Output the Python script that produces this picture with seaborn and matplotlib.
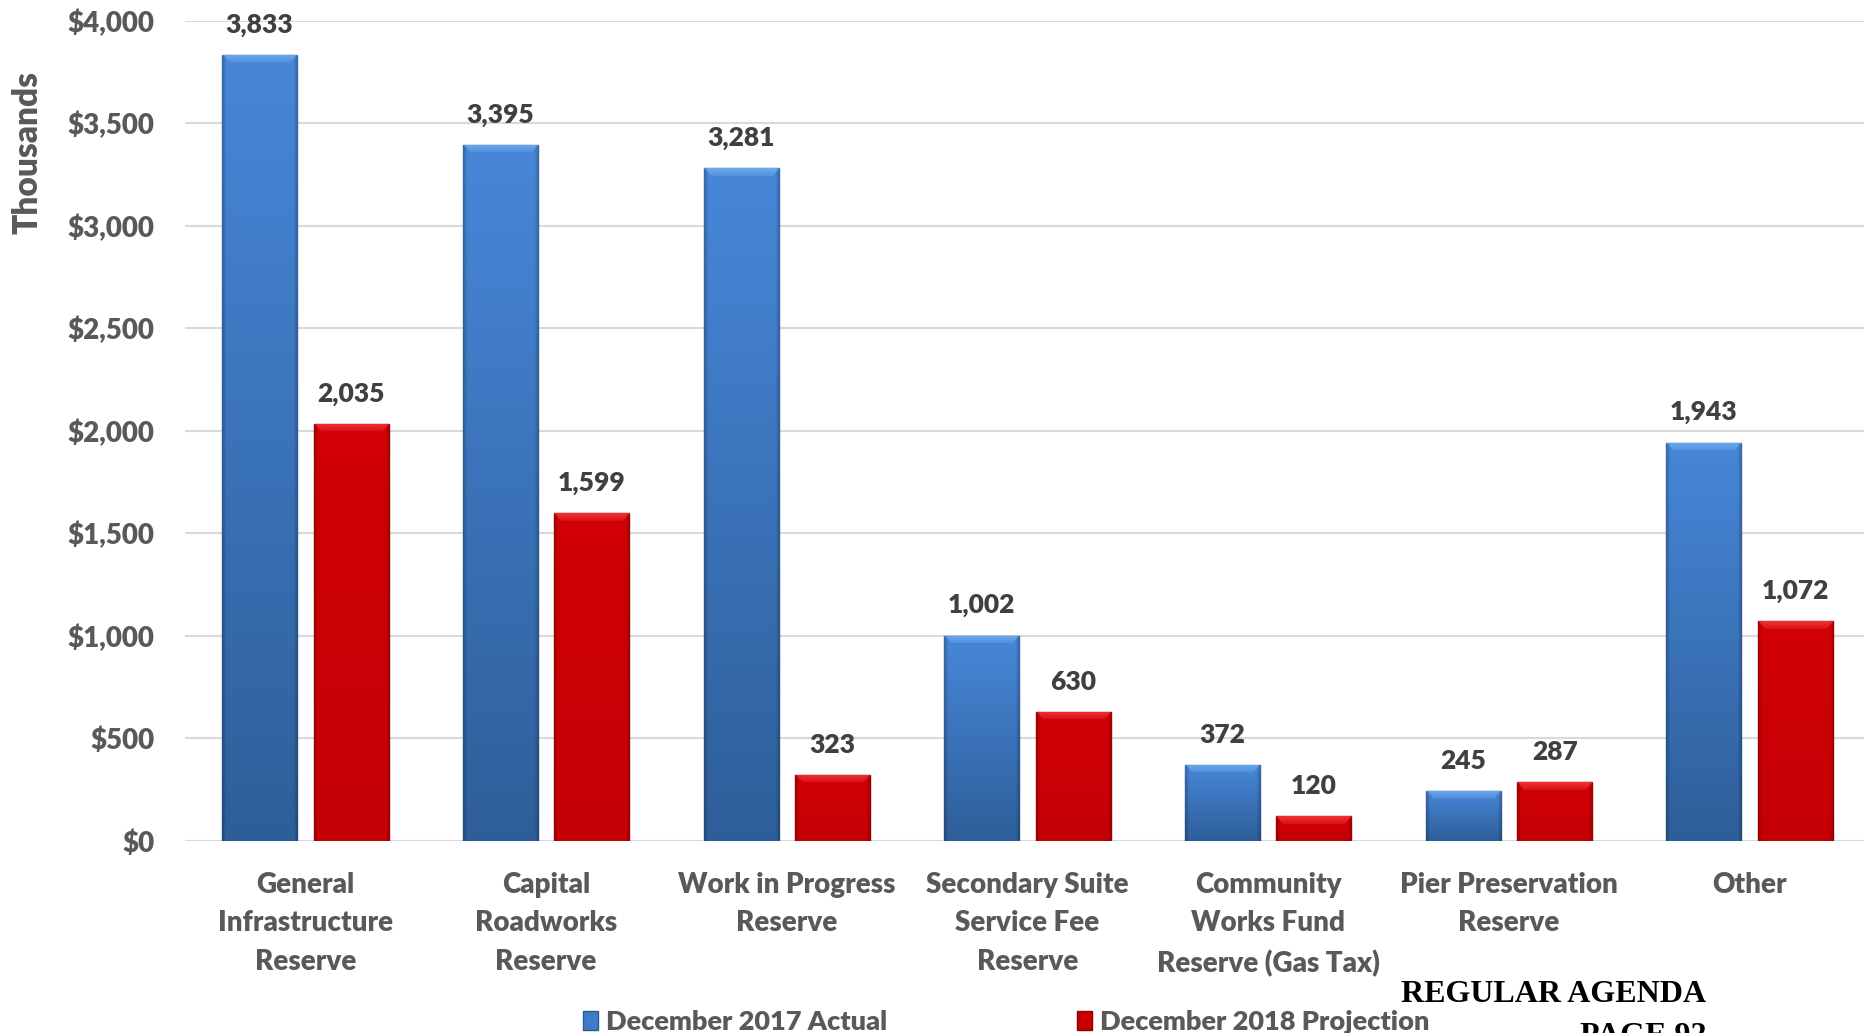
import numpy as np
import pandas as pd
import matplotlib
matplotlib.use("Agg")
import matplotlib.pyplot as plt
from matplotlib.patches import Patch
from matplotlib.ticker import FuncFormatter, MultipleLocator
import seaborn as sns

# Reserve balances, in thousands of dollars
categories = [
    "General\nInfrastructure\nReserve",
    "Capital\nRoadworks\nReserve",
    "Work in Progress\nReserve",
    "Secondary Suite\nService Fee\nReserve",
    "Community\nWorks Fund\nReserve (Gas Tax)",
    "Pier Preservation\nReserve",
    "Other",
]
series_names = ["December 2017 Actual", "December 2018 Projection"]
actual_2017 = [3833, 3395, 3281, 1002, 372, 245, 1943]
projection_2018 = [2035, 1599, 323, 630, 120, 287, 1072]

df = pd.DataFrame({
    "category": categories * 2,
    "series": [series_names[0]] * len(categories) + [series_names[1]] * len(categories),
    "value": actual_2017 + projection_2018,
})

BLUE = "#3f7cc8"
RED = "#c80000"
TICK_GRAY = "#595959"
LABEL_GRAY = "#404040"
WEIGHT = "heavy"

sns.set_theme(style="white")
plt.rcParams["font.family"] = ["Lato", "DejaVu Sans"]
plt.rcParams["font.weight"] = WEIGHT

W, H, DPI = 1864, 1033, 100
fig = plt.figure(figsize=(W / DPI, H / DPI), dpi=DPI)
ax = fig.add_axes([185 / W, 1 - 841 / H, 1685 / W, (841 - 20.7) / H])

sns.barplot(data=df, x="category", y="value", hue="series",
            palette=[BLUE, RED], width=0.76, gap=0.18, dodge=True,
            ax=ax, legend=False, saturation=1.0, zorder=2)

ax.set_xlim(-0.5, len(categories) - 0.5)
ax.set_ylim(0, 4000)

px_per_x = 1685 / len(categories)
px_per_y = (841 - 20.7) / 4000


def bar_shading(top_rgb, bot_rgb, hi_rgb, w_px, h_px):
    """Vertical gradient with a bevelled top edge and darker sides."""
    rows = max(int(round(h_px)), 2)
    cols = max(int(round(w_px)), 2)
    t = np.linspace(0, 1, rows)[:, None]
    base = np.array(top_rgb)[None, None, :] * (1 - t[..., None]) + \
        np.array(bot_rgb)[None, None, :] * t[..., None]
    img = np.repeat(base, cols, axis=1)
    # top bevel
    bev = 8
    r = np.arange(rows)[:, None]
    c = np.arange(cols)[None, :]
    in_bevel = (r < bev) & (c >= r) & (c < cols - r)
    fade = (1 - r / bev) * 0.5 + 0.2
    mix = np.where(in_bevel, fade, 0.0)[..., None]
    img = img * (1 - mix) + np.array(hi_rgb)[None, None, :] * mix
    # darker side edges
    side = np.clip(1 - np.minimum(c, cols - 1 - c) / 4.0, 0, 1)[0]
    img = img * (1 - 0.22 * side[None, :, None])
    return np.clip(img, 0, 1)


shades = [
    ((0.28, 0.53, 0.85), (0.18, 0.37, 0.60), (0.48, 0.72, 0.96)),
    ((0.82, 0.00, 0.02), (0.77, 0.00, 0.02), (0.98, 0.28, 0.28)),
]
edges = ["#2a5a90", "#8c0000"]

for container, (top, bot, hi), ec, vals in zip(ax.containers, shades, edges,
                                                [actual_2017, projection_2018]):
    for bar in container:
        x0, y0 = bar.get_x(), bar.get_y()
        w, h = bar.get_width(), bar.get_height()
        img = bar_shading(top, bot, hi, w * px_per_x, h * px_per_y)
        im = ax.imshow(img, extent=(x0, x0 + w, y0, y0 + h), aspect="auto",
                       origin="upper", zorder=2.5, interpolation="bilinear")
        im.set_clip_path(bar)
        bar.set_edgecolor(ec)
        bar.set_linewidth(1.0)
    ax.bar_label(container, labels=[f"{v:,.0f}" for v in vals], padding=13,
                 fontsize=19, fontweight=WEIGHT, color=LABEL_GRAY, zorder=4,
                 clip_on=False)

ax.set_xlim(-0.5, len(categories) - 0.5)
ax.set_ylim(0, 4000)

ax.yaxis.set_major_locator(MultipleLocator(500))
ax.yaxis.set_major_formatter(FuncFormatter(lambda v, p: f"${v:,.0f}"))
ax.yaxis.grid(True, color="#d9d9d9", linewidth=1.5)
ax.set_axisbelow(True)
for s in ax.spines.values():
    s.set_visible(False)

ax.tick_params(axis="y", length=0, pad=22, labelsize=20, labelcolor=TICK_GRAY)
ax.tick_params(axis="x", length=0, pad=22, labelsize=20, labelcolor=TICK_GRAY)
for lab in ax.get_xticklabels():
    lab.set_linespacing(1.6)
    lab.set_fontweight(WEIGHT)
for lab in ax.get_yticklabels():
    lab.set_fontweight(WEIGHT)

ax.set_xlabel("")
ax.set_ylabel("")
fig.text(27 / W, 1 - 153 / H, "Thousands", rotation=90, ha="center", va="center",
         fontsize=24, fontweight=WEIGHT, color=TICK_GRAY)

handles = [Patch(facecolor=BLUE, edgecolor=edges[0]), Patch(facecolor=RED, edgecolor=edges[1])]
fig.legend(handles, series_names, loc="center", bbox_to_anchor=(1006 / W, 1 - 1022 / H),
           ncol=2, frameon=False, labelcolor=TICK_GRAY,
           handlelength=0.55, handleheight=0.7, handletextpad=0.3, columnspacing=7.0,
           prop={"weight": WEIGHT, "size": 19.5})

fig.text(1706 / W, 1 - 994 / H, "REGULAR AGENDA", ha="right", va="center",
         fontsize=23, fontweight="bold", color="black", family="Liberation Serif")
fig.text(1706 / W, 1 - 1036 / H, "PAGE 92", ha="right", va="center",
         fontsize=23, fontweight="bold", color="black", family="Liberation Serif")

fig.savefig("out.png", dpi=DPI, facecolor="white")
